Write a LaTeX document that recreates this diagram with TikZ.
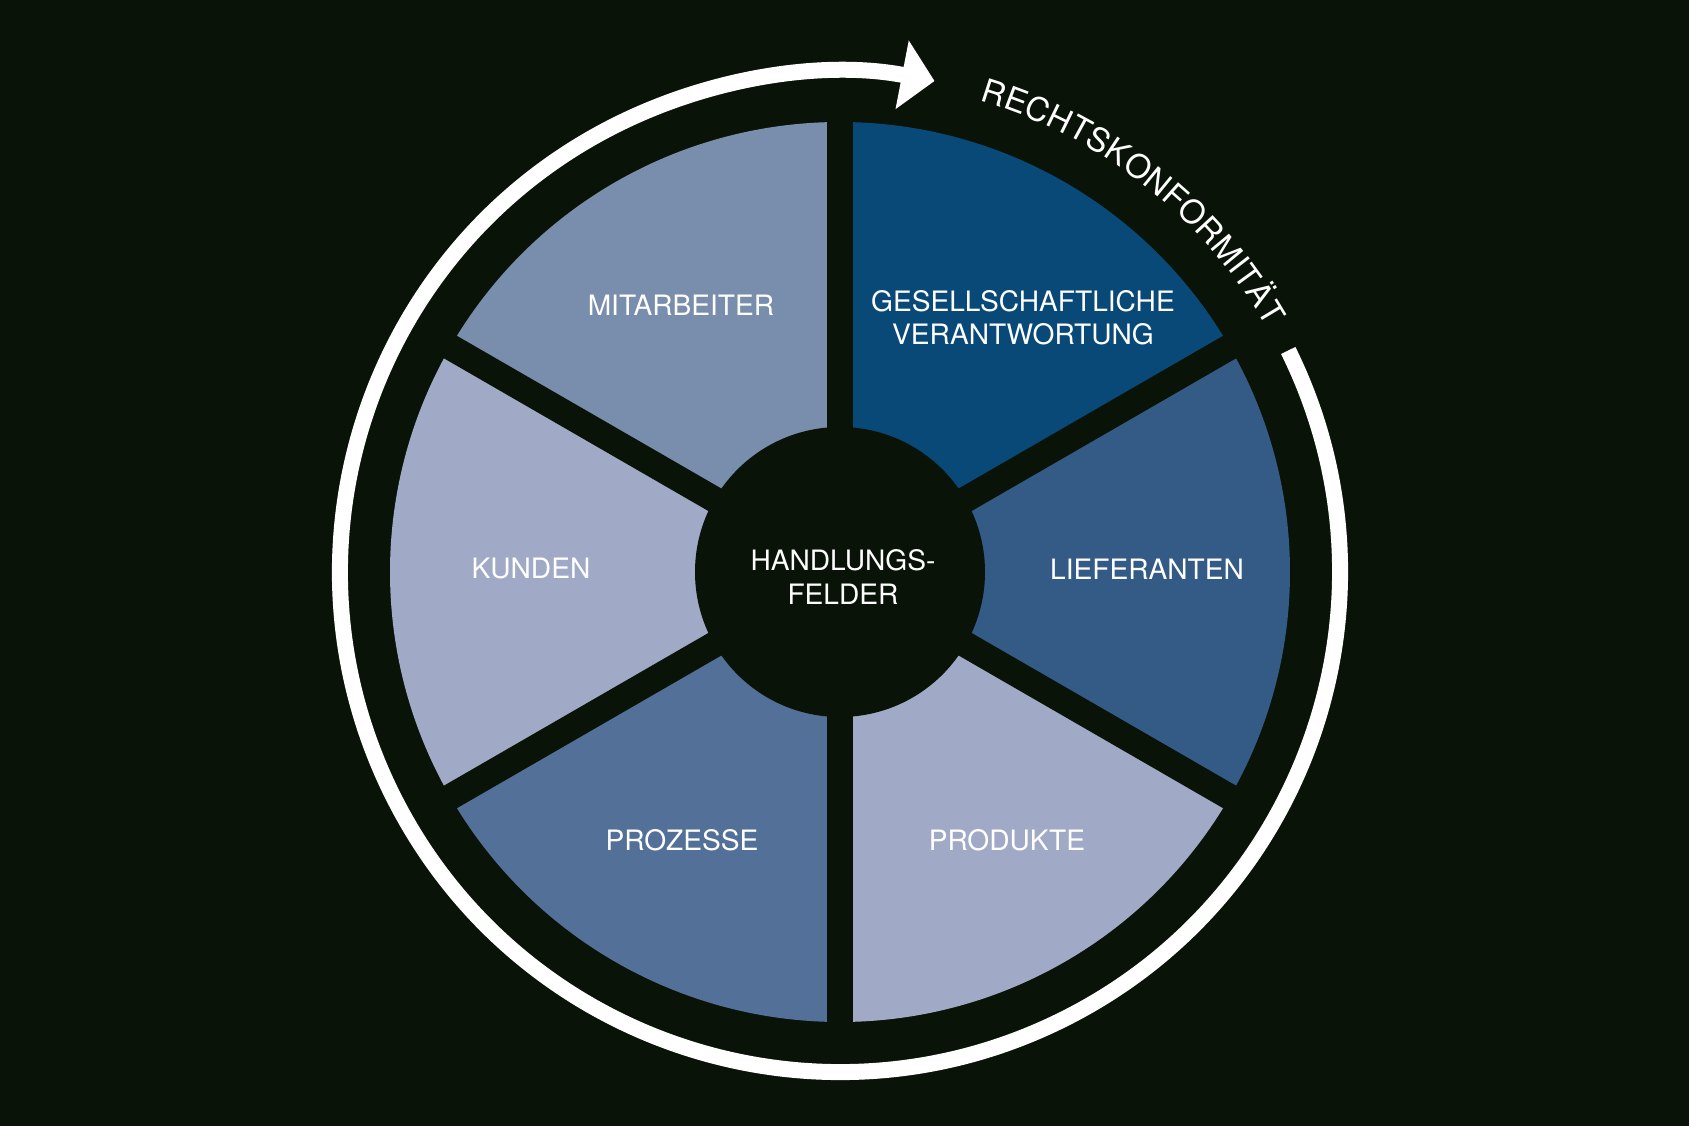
\documentclass[tikz,border=0pt]{standalone}
\usepackage{fontspec}
\setmainfont{TeX Gyre Heros}
\usetikzlibrary{positioning,arrows.meta,decorations.text}

\definecolor{bgdark}{RGB}{9,19,7}
\definecolor{fieldgrey}{RGB}{121,141,172}
\definecolor{fielddark}{RGB}{9,73,119}
\definecolor{fieldmid}{RGB}{52,90,134}
\definecolor{fieldlight}{RGB}{160,170,198}
\definecolor{fieldsteel}{RGB}{83,112,152}

\begin{document}
\begin{tikzpicture}[
		every node/.style={text=white,align=center,
			font=\fontsize{8}{9.4}\selectfont},
		spoke/.style={draw=bgdark,line width=0.26cm},
		ring/.style={draw=white,line width=0.16cm}
	]

	% Background
	\useasboundingbox (-8.40,-5.54) rectangle (8.49,5.72);
	\fill[bgdark] (-8.40,-5.54) rectangle (8.49,5.72);

	% Fields of the wheel
	\fill[fieldgrey]  (0,0) -- (90:4.5)  arc[start angle=90,end angle=150,radius=4.5] -- cycle;
	\fill[fieldlight] (0,0) -- (150:4.5) arc[start angle=150,end angle=210,radius=4.5] -- cycle;
	\fill[fieldsteel] (0,0) -- (210:4.5) arc[start angle=210,end angle=270,radius=4.5] -- cycle;
	\fill[fieldlight] (0,0) -- (270:4.5) arc[start angle=270,end angle=330,radius=4.5] -- cycle;
	\fill[fieldmid]   (0,0) -- (-30:4.5) arc[start angle=-30,end angle=30,radius=4.5] -- cycle;
	\fill[fielddark]  (0,0) -- (30:4.5)  arc[start angle=30,end angle=90,radius=4.5] -- cycle;

	% Spokes
	\foreach \a in {30,90,...,330}
		\draw[spoke] (0,0) -- (\a:4.7);

	% Hub
	\fill[bgdark] (0,0) circle (1.45);

	% Labels
	\node (handlung)     at (0.03,-0.05)   {HANDLUNGS-\\FELDER};
	\node (mitarbeiter)  at (-1.59,2.67)   {MITARBEITER};
	\node (gesellschaft) at (1.83,2.54)    {GESELLSCHAFTLICHE\\VERANTWORTUNG};
	\node (kunden)       at (-3.09,0.03)   {KUNDEN};
	\node (lieferanten)  at (3.07,0.03)    {LIEFERANTEN};
	\node (prozesse)     at (-1.58,-2.68)  {PROZESSE};
	\node (produkte)     at (1.67,-2.68)   {PRODUKTE};

	% Ring with arrow
	\draw[ring,-{Triangle[length=0.33cm,width=0.68cm]}]
		(26.3:5) arc[start angle=26.3,end angle=-280.9,radius=5];

	% Ring label
	\path[decorate,decoration={text along path,text align=fit to path,
			text color=white,
			text={|\fontsize{9.3}{9.3}\selectfont|RECHTSKONFORMITÄT}}]
		(73.5:4.92) arc[start angle=73.5,end angle=29.8,radius=4.92];

\end{tikzpicture}
\end{document}
